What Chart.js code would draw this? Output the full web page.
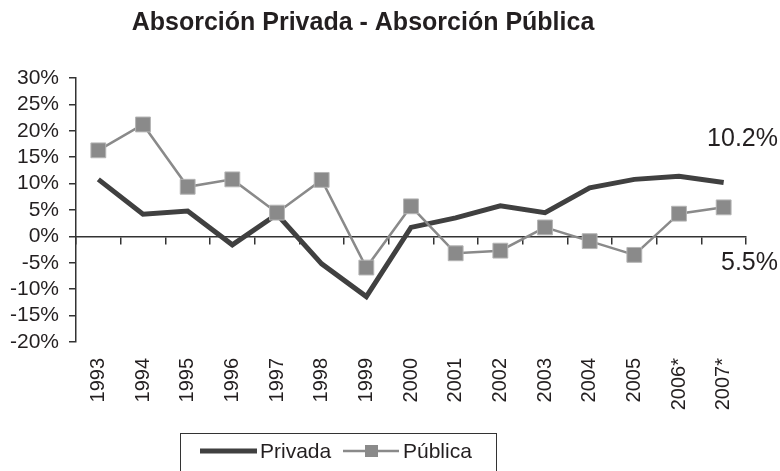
<!DOCTYPE html>
<html>
<head>
<meta charset="utf-8">
<script src="https://cdn.jsdelivr.net/npm/chart.js@4"></script>
<style>
  html, body { margin: 0; padding: 0; background: #ffffff; }
  #wrap { width: 780px; height: 471px; position: relative; }
</style>
</head>
<body>
<div id="wrap"><canvas id="c" width="780" height="471"></canvas></div>
<script>
const titleText = 'Absorción Privada - Absorción Pública';
const years = ['1993','1994','1995','1996','1997','1998','1999','2000','2001','2002','2003','2004','2005','2006*','2007*'];
const privada = [10.8, 4.2, 4.8, -1.6, 4.2, -5.2, -11.4, 1.7, 3.5, 5.8, 4.5, 9.2, 10.8, 11.4, 10.2];
const publica = [16.3, 21.2, 9.4, 10.8, 4.5, 10.7, -5.9, 5.7, -3.2, -2.7, 1.7, -0.9, -3.5, 4.3, 5.5];
const yTicks = { min: -20, max: 30, step: 5 };
const endLabels = ['10.2%', '5.5%'];

const TXT = '#231f20';
const DARK = '#404040';
const GRAY = '#8a8a8a';

const overlay = {
  id: 'overlay',
  afterDraw(chart) {
    const ctx = chart.ctx;
    ctx.save();
    // title
    ctx.fillStyle = TXT;
    ctx.font = 'bold 25px "Liberation Sans", Arial, sans-serif';
    ctx.textAlign = 'center';
    ctx.textBaseline = 'middle';
    ctx.fillText(titleText, 363, 23);
    // end labels
    const y = chart.scales.y;
    ctx.font = '25px "Liberation Sans", Arial, sans-serif';
    ctx.textAlign = 'right';
    ctx.fillText(endLabels[0], 778, y.getPixelForValue(privada[privada.length-1]) - 43);
    ctx.fillText(endLabels[1], 778, y.getPixelForValue(publica[publica.length-1]) + 56);
    // legend box
    ctx.strokeStyle = '#333';
    ctx.lineWidth = 1;
    ctx.strokeRect(180.5, 433.5, 316, 60);
    const ly = 451;
    ctx.lineWidth = 5;
    ctx.strokeStyle = DARK;
    ctx.beginPath(); ctx.moveTo(200, ly); ctx.lineTo(257, ly); ctx.stroke();
    ctx.font = '21px "Liberation Sans", Arial, sans-serif';
    ctx.textAlign = 'left';
    ctx.fillStyle = TXT;
    ctx.fillText(chart.data.datasets[0].label, 260, ly + 1);
    ctx.lineWidth = 2.5;
    ctx.strokeStyle = GRAY;
    ctx.beginPath(); ctx.moveTo(343, ly); ctx.lineTo(399, ly); ctx.stroke();
    ctx.fillStyle = GRAY;
    ctx.fillRect(365, ly - 6, 13, 12);
    ctx.fillStyle = TXT;
    ctx.fillText(chart.data.datasets[1].label, 403, ly + 1);
    ctx.restore();
  }
};

new Chart(document.getElementById('c'), {
  type: 'line',
  data: {
    labels: years,
    datasets: [
      {
        label: 'Privada',
        data: privada,
        borderColor: DARK,
        borderWidth: 5,
        pointRadius: 0,
        tension: 0,
        order: 2
      },
      {
        label: 'Pública',
        data: publica,
        borderColor: GRAY,
        borderWidth: 2.5,
        pointStyle: 'rect',
        pointRadius: 10.5,
        pointBackgroundColor: GRAY,
        pointBorderColor: '#b5b5b5',
        pointBorderWidth: 1,
        tension: 0,
        order: 1
      }
    ]
  },
  options: {
    responsive: false,
    animation: false,
    layout: { padding: { left: 0, right: 34, top: 78, bottom: 0 } },
    plugins: {
      legend: { display: false },
      title: { display: false },
      tooltip: { enabled: false }
    },
    scales: {
      x: {
        type: 'category',
        offset: true,
        grid: { display: false, drawTicks: false },
        border: { display: false },
        ticks: {
          color: TXT,
          font: { family: '"Liberation Sans", Arial, sans-serif', size: 20 },
          minRotation: 90, maxRotation: 90,
          padding: 16,
          autoSkip: false
        },
        afterFit(s) { s.height = 129; }
      },
      x2: {
        type: 'category',
        offset: true,
        position: { y: 0 },
        grid: { offset: true, drawOnChartArea: false, drawTicks: true, tickLength: 7, color: '#333', lineWidth: 1.5 },
        border: { display: true, color: '#333', width: 1.5 },
        ticks: { display: false }
      },
      y: {
        min: yTicks.min,
        max: yTicks.max,
        grid: { drawOnChartArea: false, drawTicks: true, tickLength: 7, color: '#333', lineWidth: 1.5 },
        border: { display: true, color: '#333', width: 1.5 },
        ticks: {
          stepSize: yTicks.step,
          autoSkip: false,
          color: TXT,
          padding: 10,
          font: { family: '"Liberation Sans", Arial, sans-serif', size: 21 },
          callback: v => v + '%'
        },
        afterFit(s) { s.width = 76; }
      }
    }
  },
  plugins: [overlay]
});
</script>
</body>
</html>
